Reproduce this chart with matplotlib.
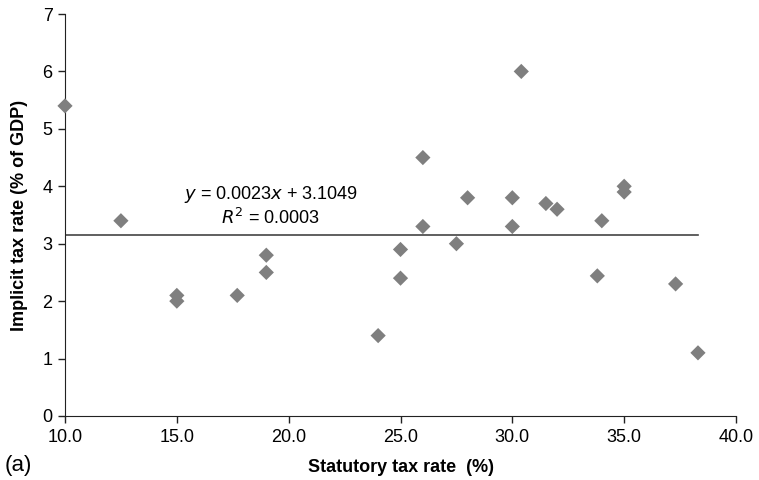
import matplotlib
matplotlib.use("Agg")
import matplotlib.pyplot as plt

plt.rcParams['font.family'] = ['Liberation Sans', 'DejaVu Sans']

# statutory vs implicit tax rate
statutory = [10.0, 12.5, 15.0, 15.0, 17.7, 19.0, 19.0, 24.0, 25.0, 25.0,
             26.0, 26.0, 27.5, 28.0, 30.0, 30.0, 30.4, 31.5, 32.0, 33.8,
             34.0, 35.0, 35.0, 37.3, 38.3]
implicit = [5.4, 3.4, 2.1, 2.0, 2.1, 2.8, 2.5, 1.4, 2.9, 2.4,
            4.5, 3.3, 3.0, 3.8, 3.8, 3.3, 6.0, 3.7, 3.6, 2.44,
            3.4, 4.0, 3.9, 2.3, 1.1]
# trend line as drawn (practically flat)
trend_x = [10.0, 38.3]
trend_y = [3.16, 3.16]
xticks = [10.0, 15.0, 20.0, 25.0, 30.0, 35.0, 40.0]
yticks = [0, 1, 2, 3, 4, 5, 6, 7]

fig = plt.figure(figsize=(7.59, 4.8), dpi=100)
ax = fig.add_axes([65/759, 1 - 416/480, (736-65)/759, (416-14)/480])

ax.scatter(statutory, implicit, marker='D', s=60, color='#7f7f7f',
           edgecolors='none', zorder=3, clip_on=False)

ax.plot(trend_x, trend_y, color='#444444', lw=1.2, zorder=2)

ax.text(19.2, 3.77, r'$y$ = 0.0023$x$ + 3.1049', ha='center', va='baseline', fontsize=13)
ax.text(19.2, 3.34, r'$R^2$ = 0.0003', ha='center', va='baseline', fontsize=13)

ax.set_xlim(10, 40)
ax.set_ylim(0, 7)
ax.set_xticks(xticks)
ax.set_xticklabels(['%.1f' % t for t in xticks])
ax.set_yticks(yticks)
ax.tick_params(labelsize=13, direction='out', length=5, width=1, color='#222222', pad=4)
for s in ['top', 'right']:
    ax.spines[s].set_visible(False)
for s in ['left', 'bottom']:
    ax.spines[s].set_color('#222222')

ax.set_xlabel('Statutory tax rate  (%)', fontsize=13, fontweight='bold', labelpad=10)
ax.set_ylabel('Implicit tax rate (% of GDP)', fontsize=13, fontweight='bold', labelpad=10)
fig.text(5/759, 1 - 465/480, '(a)', fontsize=16, va='center', ha='left')

fig.savefig('out.png', dpi=100)
